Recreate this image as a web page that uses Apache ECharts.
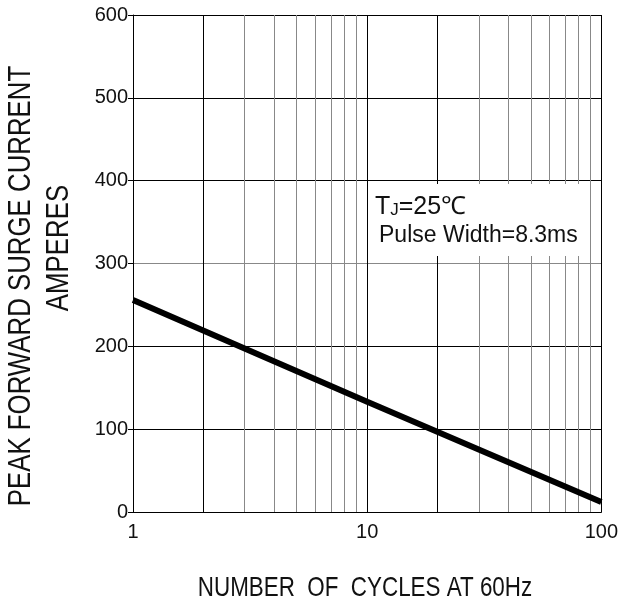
<!DOCTYPE html>
<html>
<head>
<meta charset="utf-8">
<script src="https://cdn.jsdelivr.net/npm/echarts@6/dist/echarts.min.js"></script>
<style>html,body{margin:0;padding:0;background:#fff}#c{width:621px;height:600px}</style>
</head>
<body>
<div id="c"></div>
<script>
const cycles = [1, 10, 100];
const surge = [256, 133, 12];
const minorX = [2, 3, 4, 5, 6, 7, 8, 9, 20, 30, 40, 50, 60, 70, 80, 90];
const darkMinorX = [2, 20];
const yMin = 0, yMax = 600, yStep = 100;
const xTitle = 'NUMBER  OF  CYCLES AT 60Hz';
const yTitle1 = 'PEAK FORWARD SURGE CURRENT';
const yTitle2 = 'AMPERES';
const FONT = '"Liberation Sans", Arial, sans-serif';

const chart = echarts.init(document.getElementById('c'), null, {renderer: 'canvas'});
chart.setOption({
  animation: false,
  backgroundColor: '#fff',
  grid: {left: 133, right: 19, top: 15, bottom: 88},
  xAxis: {
    type: 'log', logBase: 10, min: 1, max: 100,
    axisLine: {show: true, lineStyle: {color: '#000', width: 1}},
    axisTick: {show: false},
    axisLabel: {color: '#111', fontSize: 20, fontFamily: FONT, margin: 10},
    splitLine: {show: true, lineStyle: {color: '#000', width: 1}},
    minorTick: {show: false}, minorSplitLine: {show: false}
  },
  yAxis: {
    type: 'value', min: yMin, max: yMax, interval: yStep,
    axisLine: {show: true, lineStyle: {color: '#000', width: 1}},
    axisTick: {show: true, length: 5, lineStyle: {color: '#000'}},
    axisLabel: {color: '#111', fontSize: 20, fontFamily: FONT, margin: 5},
    splitLine: {show: true, lineStyle: {color: ['#000', '#000', '#000', '#888', '#000', '#000', '#000'], width: 1}}
  },
  series: [
    {
      type: 'line', data: [], silent: true, z: 1,
      markLine: {
        silent: true, symbol: 'none', animation: false,
        label: {show: false},
        lineStyle: {color: '#888', width: 1, type: 'solid'},
        data: minorX.map(v => ({xAxis: v, lineStyle: {color: darkMinorX.includes(v) ? '#000' : '#888', width: 1, type: 'solid'}}))
      }
    },
    {
      type: 'line', z: 5,
      data: cycles.map((c, i) => [c, surge[i]]),
      showSymbol: false, symbol: 'none',
      lineStyle: {color: '#000', width: 6, cap: 'butt'}
    }
  ],
  graphic: [
    {type: 'rect', z: 100, shape: {x: 374, y: 184, width: 207, height: 72}, style: {fill: '#fff'}},
    {type: 'text', z: 101, x: 375, y: 207, style: {
      text: '{t|T}{s|J}{t|=25℃}', textVerticalAlign: 'middle', rich: {
        t: {fontSize: 25, fontFamily: FONT, fill: '#111', verticalAlign: 'bottom'},
        s: {fontSize: 17, fontFamily: FONT, fill: '#111', verticalAlign: 'bottom', padding: [0, 0, 1, 0]}
      }}},
    {type: 'text', z: 101, x: 379, y: 236, style: {text: 'Pulse Width=8.3ms', fontSize: 23, fontFamily: FONT, fill: '#111', textVerticalAlign: 'middle'}},
    {type: 'text', z: 101, x: 365, y: 588, scaleX: 0.8, style: {text: xTitle, fontSize: 28, fontFamily: FONT, fill: '#111', textAlign: 'center', textVerticalAlign: 'middle'}},
    {type: 'text', z: 101, x: 21, y: 286, rotation: Math.PI / 2, scaleX: 0.807, style: {text: yTitle1, fontSize: 32, fontFamily: FONT, fill: '#111', textAlign: 'center', textVerticalAlign: 'middle'}},
    {type: 'text', z: 101, x: 59, y: 248, rotation: Math.PI / 2, scaleX: 0.807, style: {text: yTitle2, fontSize: 32, fontFamily: FONT, fill: '#111', textAlign: 'center', textVerticalAlign: 'middle'}}
  ]
});
</script>
</body>
</html>
